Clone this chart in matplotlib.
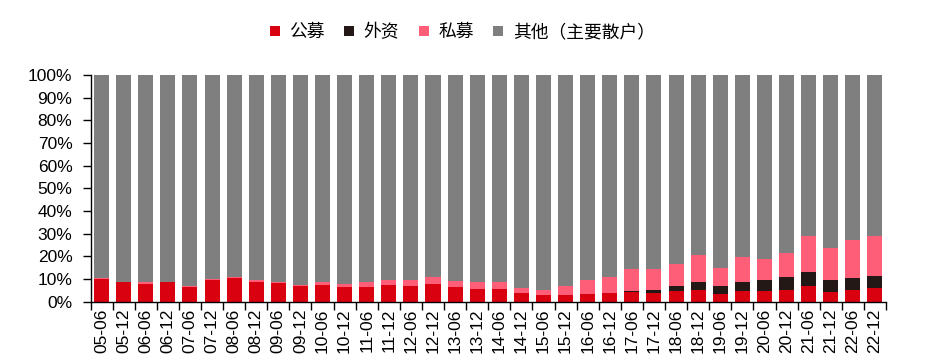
import matplotlib.pyplot as plt
import numpy as np
from matplotlib.lines import Line2D
from matplotlib.ticker import FixedLocator, PercentFormatter

# ---------------------------------------------------------------- data -----
periods = [f"{y:02d}-{m}" for y in range(5, 23) for m in ("06", "12")]

public_fund = [10.0, 8.4, 7.8, 8.4, 6.5, 9.6, 10.3, 8.8, 8.3, 6.8, 7.5, 6.3,
               6.6, 7.1, 6.8, 7.8, 6.6, 5.5, 5.5, 3.8, 2.7, 2.9, 3.5, 3.7,
               4.1, 3.8, 4.7, 5.2, 3.4, 4.6, 4.6, 5.2, 6.9, 4.4, 5.2, 5.8]
foreign = [0.0] * 24 + [0.6, 1.2, 2.1, 3.4, 3.4, 4.2, 4.8, 5.6, 6.1, 5.0, 5.1, 5.6]
private_fund = [0.4, 0.3, 0.6, 0.4, 0.4, 0.4, 0.3, 0.5, 0.5, 0.6, 1.2, 1.5,
                2.0, 2.5, 2.5, 3.0, 2.4, 2.9, 3.1, 2.0, 2.2, 3.9, 5.8, 7.2,
                9.5, 9.5, 9.6, 11.8, 8.2, 10.7, 9.5, 10.6, 15.9, 14.1, 16.7, 17.4]

series_names = ["公募", "外资", "私募", "其他（主要散户）"]

# ---------------------------------------------------------------- style ----
COLOR_RED = "#D9000F"
COLOR_BLACK = "#231816"
COLOR_PINK = "#FF5E78"
COLOR_GRAY = "#7F7F7F"
colors = [COLOR_RED, COLOR_BLACK, COLOR_PINK, COLOR_GRAY]

plt.rcParams["font.family"] = ["Liberation Sans", "Noto Sans CJK SC", "DejaVu Sans"]

pub = np.array(public_fund)
fgn = np.array(foreign)
pvt = np.array(private_fund)
other = 100 - pub - fgn - pvt

fig = plt.figure(figsize=(9.33, 3.63), dpi=100)
ax = fig.add_axes([90.5 / 933, 1 - 301.5 / 363, (886 - 90.5) / 933, (301.5 - 75) / 363])

x = np.arange(len(periods))
bottom = np.zeros(len(periods))
for vals, col in zip([pub, fgn, pvt, other], colors):
    ax.bar(x, vals, bottom=bottom, width=0.68, color=col, linewidth=0)
    bottom += vals

ax.set_xlim(-0.5, len(periods) - 0.5)
ax.set_ylim(0, 100)
ax.set_yticks(np.arange(0, 101, 10))
ax.yaxis.set_major_formatter(PercentFormatter(decimals=0))

ax.set_xticks(x)
ax.set_xticklabels(periods, rotation=90)
ax.xaxis.set_minor_locator(FixedLocator(np.arange(-0.5, len(periods), 1)))
ax.tick_params(axis="x", which="major", length=0, pad=5, labelsize=12.5)
ax.tick_params(axis="x", which="minor", length=6, width=1, direction="out")
ax.tick_params(axis="y", length=6, width=1, direction="out", labelsize=12.5, pad=7)

for side in ("top", "right"):
    ax.spines[side].set_visible(False)
for side in ("left", "bottom"):
    ax.spines[side].set_linewidth(1)

handles = [Line2D([], [], marker="s", linestyle="none", markersize=7,
                  color=c, markeredgewidth=0) for c in colors]
fig.legend(handles, series_names, loc="center", ncol=4,
           bbox_to_anchor=(462 / 933, 1 - 32 / 363), frameon=False,
           prop={"family": ["Noto Sans CJK SC"], "size": 12.8},
           handlelength=0.6, handletextpad=0.5, columnspacing=1.1)

fig.savefig("out.png", dpi=100)
